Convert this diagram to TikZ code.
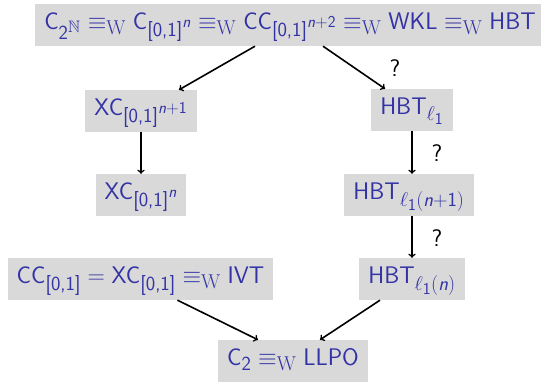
\documentclass[tikz,border=0pt]{standalone}
\usepackage{fix-cm}
\usepackage{amsmath,amssymb}
\usetikzlibrary{calc}
\DeclareMathSizes{24}{24}{20}{16.6}
\definecolor{boxgray}{RGB}{217,217,217}
\definecolor{structblue}{RGB}{51,51,165}
% italic sans variable
\newcommand{\sn}{\textsf{\textit{n}}}
\newcommand{\eqW}{\equiv_{\mathrm{W}}}
\newcommand{\sfx}[1]{\textsf{#1}}
% unit-cube index [0,1]^k, the exponent kept from pushing the index down
\newcommand{\cube}[1]{\sfx{[0,1]}^{\smash{#1}}}
\tikzset{
  stmt/.style={fill=boxgray, text=structblue, inner xsep=9pt, inner ysep=8.5pt,
    text height=17pt, text depth=8pt, font=\fontsize{24}{29}\selectfont\sffamily},
  imp/.style={-to, line width=1.6pt, black},
  qmark/.style={font=\fontsize{24}{29}\selectfont\sffamily, text=black, inner sep=0pt}
}
\begin{document}
\begin{tikzpicture}[x=1pt, y=-1pt]
\useasboundingbox (0,0) rectangle (541,381);
\node[stmt] (top) at (290,25)
  {$\sfx{C}_{\sfx{2}^{\mathbb{N}}} \eqW \sfx{C}_{\cube{\sn}} \eqW \sfx{CC}_{\cube{\sn+\sfx{2}}} \eqW \sfx{WKL} \eqW \sfx{HBT}$};
\node[stmt] (xcA) at (141,111) {$\sfx{XC}_{\cube{\sn+\sfx{1}}}$};
\node[stmt] (xcB) at (141,195) {$\sfx{XC}_{\cube{\sn}}$};
\node[stmt] (cc) at (140.5,279) {$\sfx{CC}_{\sfx{[0,1]}} = \sfx{XC}_{\sfx{[0,1]}} \eqW \sfx{IVT}$};
\node[stmt] (hbtA) at (412,110) {$\sfx{HBT}_{\ell_{\sfx{1}}}$};
\node[stmt] (hbtB) at (409,195) {$\sfx{HBT}_{\ell_{\sfx{1}}(\sn+\sfx{1})}$};
\node[stmt] (hbtC) at (412,279) {$\sfx{HBT}_{\ell_{\sfx{1}}(\sn)}$};
\node[stmt] (llpo) at (293,361) {$\sfx{C}_{\sfx{2}} \eqW \sfx{LLPO}$};

\draw[imp] ([xshift=-35pt]top.south) -- ([xshift=38pt]xcA.north);
\draw[imp] ([xshift=33pt]top.south) -- ([xshift=-27pt]hbtA.north);
\draw[imp] (xcA.south) -- (xcB.north);
\draw[imp] (hbtA.south) -- (hbtA.south |- hbtB.north);
\draw[imp] (hbtC.north |- hbtB.south) -- (hbtC.north);
\draw[imp] ([xshift=37pt]cc.south) -- ([xshift=-35pt]llpo.north);
\draw[imp] ([xshift=-32pt]hbtC.south) -- ([xshift=27pt]llpo.north);

\node[qmark] (q1) at (395,68) {?};
\node[qmark] (q2) at (437,153) {?};
\node[qmark] (q3) at (437,238) {?};
\end{tikzpicture}
\end{document}
